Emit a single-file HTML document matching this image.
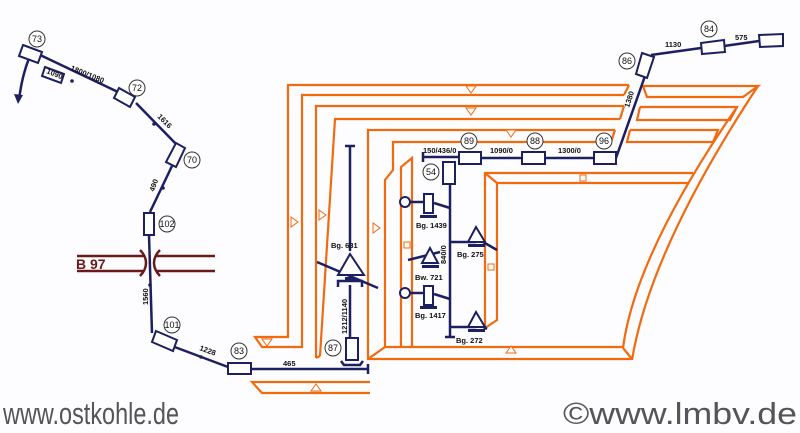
<!DOCTYPE html>
<html><head><meta charset="utf-8"><style>
html,body{margin:0;padding:0;background:#fdfcfe;}
svg{display:block;}
text{font-family:"Liberation Sans",sans-serif;}
</style></head><body>
<svg width="800" height="433" viewBox="0 0 800 433" xmlns="http://www.w3.org/2000/svg">
<rect width="800" height="433" fill="#fdfcfe"/>
<g fill="none" stroke="#f26a10" stroke-width="2.2" stroke-linejoin="miter">
<polyline points="629,85 288,85 288,337 255,337 262,347 302,347 302,95 624,95"/>
<line x1="629" y1="85" x2="624" y2="95"/>
<polyline points="624,106 316,106 316,358"/>
<polyline points="620,119 335,119 320,356"/>
<line x1="316" y1="358" x2="320" y2="356"/>
<line x1="624" y1="106" x2="620" y2="119"/>
<polyline points="615,130 368,130 368,359 632,359"/>
<polyline points="611,142 393,142 393,170 385,180 385,347 623,347"/>
<line x1="368" y1="359" x2="385" y2="347"/>
<line x1="615" y1="130" x2="611" y2="142"/>
<polyline points="401,347 401,167 412,158 412,347"/>
<polyline points="693,173 485,173 485,328 497,320 497,183 688,183"/>
<line x1="485" y1="173" x2="497" y2="183"/>
<polyline points="643,86 758,86 743,97 647,97 643,86"/>
<polyline points="640,107 737,107 730,120 637,120 640,107"/>
<polyline points="630,130 718,130 713,142 627,142 630,130"/>
<path d="M758,86 Q650,250 632,360"/>
<path d="M737,107 Q635,255 623,348"/>
<line x1="623" y1="348" x2="632" y2="359"/>
<polyline points="370,382 252,382 262,393 370,393"/>
</g>
<g fill="#fff" stroke="#f26a10" stroke-width="1">
<polygon points="466,86 476,86 471,93"/><polygon points="466,108 476,108 471,115"/>
<polygon points="506,130 516,130 511,137"/>
<polygon points="506,353 516,353 511,346"/>
<polygon points="262,339 272,339 267,346"/>
<polygon points="311,391 321,391 316,384"/>
<polygon points="291,217 291,227 298,222"/><polygon points="319,210 319,220 326,215"/>
<polygon points="373,223 373,233 380,228"/>
<rect x="404" y="242" width="6" height="6"/><rect x="488" y="264" width="6" height="6"/><rect x="580" y="175" width="6" height="6"/>
</g>
<g stroke="#6b1a1a" stroke-width="2.5" fill="none">
<line x1="77" y1="256" x2="144" y2="256"/><line x1="77" y1="271" x2="144" y2="271"/>
<line x1="156" y1="256" x2="215" y2="256"/><line x1="156" y1="271" x2="215" y2="271"/>
<path d="M140,250 Q146,256 146,263 Q146,270 140,276"/>
<path d="M160,250 Q154,256 154,263 Q154,270 160,276"/>
</g>
<text x="76" y="269" font-size="14" font-weight="bold" fill="#6b1a1a">B 97</text>
<g stroke="#1c2060" stroke-width="2.5" fill="none">
<path d="M30,56 Q22,75 19,100"/>
<line x1="38" y1="54" x2="118" y2="92"/>
<line x1="136" y1="103" x2="178" y2="146"/>
<line x1="172" y1="166" x2="150" y2="212"/>
<line x1="149" y1="235" x2="152" y2="333"/>
<line x1="172" y1="346" x2="228" y2="367"/>
<line x1="251" y1="369" x2="368" y2="369"/><line x1="368" y1="364" x2="368" y2="374"/>
<line x1="350" y1="146" x2="350" y2="251"/><line x1="345" y1="146" x2="355" y2="146"/>
<line x1="350" y1="285" x2="350" y2="338"/>
<line x1="423" y1="157" x2="459" y2="157"/><line x1="423" y1="152" x2="423" y2="162"/>
<line x1="481" y1="158" x2="522" y2="158"/><line x1="545" y1="158" x2="594" y2="158"/>
<line x1="616" y1="158" x2="645" y2="76"/>
<line x1="651" y1="55" x2="701" y2="48"/><line x1="724" y1="46" x2="759" y2="41"/>
<line x1="450" y1="184" x2="450" y2="337"/><line x1="445" y1="337" x2="455" y2="337"/>
<line x1="434" y1="203" x2="450" y2="208"/><line x1="434" y1="294" x2="450" y2="299"/>
<line x1="410" y1="202" x2="424" y2="202"/><line x1="410" y1="293" x2="424" y2="293"/>
<line x1="450" y1="242" x2="476" y2="242"/><line x1="450" y1="327" x2="476" y2="327"/>
<line x1="476" y1="238" x2="497" y2="250"/>
<line x1="476" y1="323" x2="487" y2="329"/>
<line x1="408" y1="260" x2="440" y2="252"/>
<line x1="317" y1="262" x2="378" y2="288"/>
<polyline points="338,287 338,281 362,281 362,287"/>
<polyline points="341,361 344,365 360,365 363,361"/>
</g>
<polygon points="18,104 14,94 23,95" fill="#1c2060"/>
<g stroke="#1c2060" stroke-width="2" fill="#fff">
<polygon points="23,45 42,52 38,63 19,56"/>
<polygon points="45,67 64,74 61,83 42,76"/>
<polygon points="119,88 135,97 130,107 114,98"/>
<polygon points="176,143 185,148 176,167 166,162"/>
<rect x="144" y="213" width="10" height="22"/>
<polygon points="156,331 177,340 173,351 152,342"/>
<rect x="228" y="363" width="23" height="11"/>
<rect x="346" y="338" width="12" height="22"/>
<rect x="459" y="152" width="22" height="12"/>
<rect x="522" y="152" width="23" height="12"/>
<rect x="594" y="152" width="22" height="12"/>
<polygon points="642,53 654,57 647,78 636,74"/>
<polygon points="701,43 724,40 725,52 702,54"/>
<polygon points="759,35 783,34 783,46 760,47"/>
<rect x="443" y="162" width="12" height="22"/>
<circle cx="405" cy="202" r="5"/><circle cx="405" cy="293" r="5"/>
<rect x="424" y="194" width="9" height="19"/><rect x="424" y="286" width="9" height="19"/>
<polygon points="350,254 338,275 364,275"/>
<polygon points="476,227 468,242 485,242"/>
<polygon points="476,312 468,327 485,327"/>
<polygon points="430,248 422,263 438,263"/>
</g>
<g fill="#1c2060">
<rect x="420" y="215" width="17" height="3"/><rect x="420" y="306" width="17" height="3"/>
<rect x="468" y="244" width="17" height="3"/><rect x="468" y="329" width="17" height="3"/>
<rect x="422" y="265" width="17" height="3"/>
<rect x="345" y="277" width="10" height="4"/>
<circle cx="72" cy="81" r="1.8"/><circle cx="154" cy="124" r="1.8"/><circle cx="163" cy="188" r="1.8"/>
<circle cx="150" cy="285" r="1.8"/><circle cx="201" cy="357" r="1.8"/>
</g>
<g stroke="#333" stroke-width="1" fill="#fff">
<circle cx="37" cy="39" r="8"/><circle cx="137" cy="88" r="8"/><circle cx="192" cy="160" r="8"/>
<circle cx="167" cy="224" r="8"/><circle cx="172" cy="325" r="8"/><circle cx="239" cy="351" r="8"/>
<circle cx="333" cy="348" r="8"/><circle cx="469" cy="141" r="8"/><circle cx="535" cy="141" r="8"/>
<circle cx="604" cy="141" r="8"/><circle cx="627" cy="61" r="8"/><circle cx="709" cy="29" r="8"/>
<circle cx="431" cy="172" r="8"/>
</g>
<g font-size="9" fill="#111" text-anchor="middle">
<text x="37" y="42">73</text><text x="137" y="91">72</text><text x="192" y="163">70</text>
<text x="167" y="227">102</text><text x="172" y="328">101</text><text x="239" y="354">83</text>
<text x="333" y="351">87</text><text x="469" y="144">89</text><text x="535" y="144">88</text>
<text x="604" y="144">96</text><text x="627" y="64">86</text><text x="709" y="32">84</text>
<text x="431" y="175">54</text>
</g>
<g font-size="7.5" font-weight="bold" fill="#111">
<text transform="translate(46,73) rotate(22)">1090</text>
<text transform="translate(70,70) rotate(22)">1800/1080</text>
<text transform="translate(157,117) rotate(45)">1616</text>
<text transform="translate(154,192) rotate(-70)">490</text>
<text transform="translate(148,305) rotate(-90)">1560</text>
<text transform="translate(199,350) rotate(20)">1228</text>
<text x="283" y="366">465</text>
<text x="331" y="248">Bg. 631</text>
<text transform="translate(347,334) rotate(-90)">1212/1140</text>
<text x="423" y="153">150/436/0</text>
<text x="490" y="153">1090/0</text>
<text x="558" y="153">1300/0</text>
<text transform="translate(629,108) rotate(-72)">1380</text>
<text x="665" y="47">1130</text>
<text x="735" y="40">575</text>
<text x="416" y="228">Bg. 1439</text>
<text x="457" y="257">Bg. 275</text>
<text x="415" y="280">Bw. 721</text>
<text x="415" y="318">Bg. 1417</text>
<text x="456" y="343">Bg. 272</text>
<text transform="translate(446,264) rotate(-90)">840/0</text>
</g>
<text x="3" y="424" font-size="31" fill="#555" textLength="176" lengthAdjust="spacingAndGlyphs">www.ostkohle.de</text>
<text x="563" y="424" font-size="31" fill="#555" textLength="234" lengthAdjust="spacingAndGlyphs">©www.lmbv.de</text>
</svg>
</body></html>
